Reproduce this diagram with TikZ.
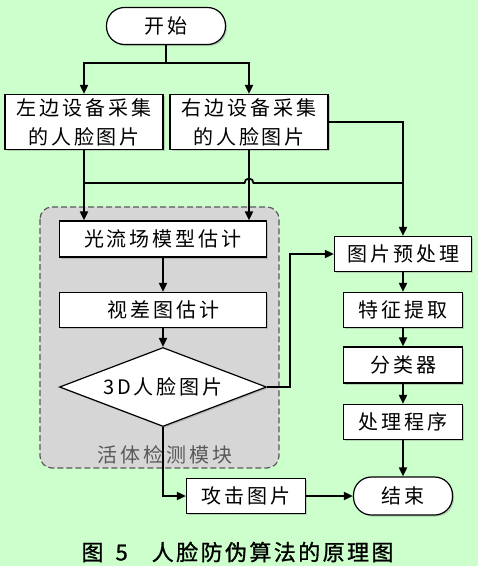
\documentclass[tikz,border=0pt]{standalone}
\usepackage{fontspec}
\setmainfont{Noto Sans CJK SC}
\newfontfamily\cjk[LetterSpace=15]{Noto Sans CJK SC}
\newfontfamily\capfont[LetterSpace=11,FakeBold=1]{Noto Sans CJK SC}
\usetikzlibrary{arrows.meta,shapes.geometric,shadows,calc}
\definecolor{bggreen}{RGB}{204,255,204}
\definecolor{modgray}{RGB}{214,214,214}
\tikzset{
	box/.style={draw, line width=1.2pt, fill=white, inner sep=2pt, minimum height=35pt,
		font=\cjk\fontsize{20}{29}\selectfont,
		drop shadow={shadow xshift=1.5pt, shadow yshift=-1.5pt, opacity=0.35}},
	term/.style={box, rounded corners=18pt},
	link/.style={line width=1.8pt, -{Triangle[length=9pt,width=8pt]}},
	plain/.style={line width=1.8pt},
}

\begin{document}
\begin{tikzpicture}[x=1pt,y=-1pt]
			%%%%% START %%%%%
			
			\fill[bggreen] (0,0) rectangle (478,566);
			\useasboundingbox (0,0) rectangle (478,566);
			
			% live detection module
			\draw[line width=1.2pt, color=black!65, dash pattern=on 6pt off 3pt, fill=modgray, rounded corners=12pt] (40,207) rectangle (279,468);
			\node[text=black!65, font=\cjk\fontsize{20}{24}\selectfont] (modlabel) at (165,455) {活体检测模块};
			
			\node[term, minimum width=119pt, minimum height=37pt] (start) at (166,26) {开始};
			\node[box, minimum width=158pt, minimum height=55pt, align=center] (left) at (84,122) {左边设备采集\\的人脸图片};
			\node[box, minimum width=158pt, minimum height=55pt, align=center] (right) at (249,122) {右边设备采集\\的人脸图片};
			
			\node[box, minimum width=207pt, minimum height=36pt] (flow) at (163,239) {光流场模型估计};
			\node[box, minimum width=207pt] (disp) at (163,310) {视差图估计};
			\node[box, diamond, shape aspect=2.6, minimum width=207pt, minimum height=79pt, inner sep=0pt] (face) at (163,387) {3D人脸图片};
			
			\node[box, minimum width=137pt] (pre) at (403,254) {图片预处理};
			\node[box, minimum width=119pt] (feat) at (403,310) {特征提取};
			\node[box, minimum width=119pt, minimum height=36pt] (cls) at (403,365) {分类器};
			\node[box, minimum width=119pt] (proc) at (403,422) {处理程序};
			\node[term, minimum width=99pt, minimum height=38pt] (end) at (403,496) {结束};
			\node[box, minimum width=119pt] (atk) at (246,496) {攻击图片};
			
			% connectors
			\coordinate (split) at (166,63);
			\draw[plain] (start.south) -- (split);
			\draw[link] (split) -| (left.north);
			\draw[link] (split) -| (right.north);
			\draw[link] (right.east) -| (pre.north);
			\draw[link] (left.south) -- (left.south |- flow.north);
			\draw[link] (right.south) -- (right.south |- flow.north);
			
			\coordinate (busL) at (84,183);
			\coordinate (busR) at (403,183);
			\draw[plain] (busL) -- ($(right.south |- busL)+(-4.5,0)$) arc (180:360:4.5) -- (busR);
			
			\draw[link] (flow) -- (disp);
			\draw[link] (disp) -- (face);
			\draw[link] (face.east) -- ++(23,0) |- (pre.west);
			\draw[link] (face.south) |- (atk.west);
			\draw[link] (atk) -- (end);
			\draw[link] (pre) -- (feat);
			\draw[link] (feat) -- (cls);
			\draw[link] (cls) -- (proc);
			\draw[link] (proc) -- (end);
			
			\node[font=\capfont\fontsize{22}{26}\selectfont, anchor=west] (caption) at (78,552) {图\hspace{12pt}5\hspace{24pt}人脸防伪算法的原理图};
			
			%%%%% END %%%%%
\end{tikzpicture}
\end{document}
